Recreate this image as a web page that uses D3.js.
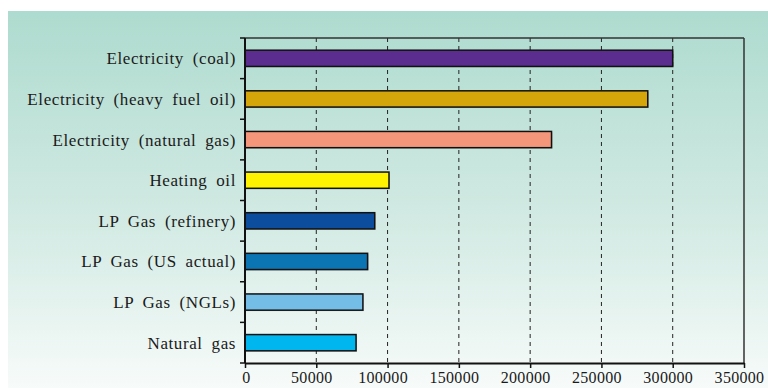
<!DOCTYPE html>
<html>
<head>
<meta charset="utf-8">
<script src="https://cdn.jsdelivr.net/npm/d3@7"></script>
<style>
  body { margin: 0; background: #fff; }
  svg text { font-family: "Liberation Serif", "DejaVu Serif", serif; fill: #1a1a1a; }
</style>
</head>
<body>
<svg id="chart" width="768" height="388"></svg>
<script>
// Categories, top to bottom
const categories = [
  "Electricity (coal)",
  "Electricity (heavy fuel oil)",
  "Electricity (natural gas)",
  "Heating oil",
  "LP Gas (refinery)",
  "LP Gas (US actual)",
  "LP Gas (NGLs)",
  "Natural gas"
];
const values = [300000, 282500, 215000, 101000, 91000, 86000, 82700, 77900];
const barColors = ["#5b2d8e", "#d4a60a", "#f4967a", "#fff200", "#0d4d9e", "#0b74b3", "#74bde6", "#00b6ef"];
const xTicks = [0, 50000, 100000, 150000, 200000, 250000, 300000, 350000];

const svg = d3.select("#chart");
const margin = { top: 38, right: 24, bottom: 25, left: 245 };
const width = 768 - margin.left - margin.right;
const height = 388 - margin.top - margin.bottom;

// background panel with vertical gradient
const defs = svg.append("defs");
const grad = defs.append("linearGradient")
  .attr("id", "bg").attr("x1", 0).attr("y1", 0).attr("x2", 0).attr("y2", 1);
grad.append("stop").attr("offset", "0%").attr("stop-color", "#aedbcf");
grad.append("stop").attr("offset", "55%").attr("stop-color", "#d2eae3");
grad.append("stop").attr("offset", "100%").attr("stop-color", "#f7fbfa");

svg.append("rect")
  .attr("x", 8).attr("y", 11)
  .attr("width", 760).attr("height", 377)
  .attr("fill", "url(#bg)");

const g = svg.append("g").attr("transform", `translate(${margin.left},${margin.top})`);

const x = d3.scaleLinear().domain([0, 350000]).range([0, width]);
const y = d3.scaleBand().domain(categories).range([0, height]).paddingInner(0.6).paddingOuter(0.3);

// dashed grid lines
g.append("g")
  .selectAll("line")
  .data(xTicks.slice(1, -1))
  .join("line")
  .attr("x1", d => x(d)).attr("x2", d => x(d))
  .attr("y1", 0).attr("y2", height)
  .attr("stroke", "#222")
  .attr("stroke-width", 1)
  .attr("stroke-dasharray", "4,4");

// frame top and right
g.append("line").attr("x1", 0).attr("x2", width).attr("y1", 0).attr("y2", 0)
  .attr("stroke", "#333").attr("stroke-width", 1.5);
g.append("line").attr("x1", width).attr("x2", width).attr("y1", 0).attr("y2", height)
  .attr("stroke", "#333").attr("stroke-width", 1.5);

// bar shadows
g.append("g")
  .selectAll("rect")
  .data(values)
  .join("rect")
  .attr("x", 1)
  .attr("y", (d, i) => y(categories[i]) + 1)
  .attr("width", d => x(d))
  .attr("height", y.bandwidth())
  .attr("fill", "#000")
  .attr("opacity", 0.15);

// bars
g.append("g")
  .selectAll("rect")
  .data(values)
  .join("rect")
  .attr("x", 0)
  .attr("y", (d, i) => y(categories[i]))
  .attr("width", d => x(d))
  .attr("height", y.bandwidth())
  .attr("fill", (d, i) => barColors[i])
  .attr("stroke", "#111")
  .attr("stroke-width", 1.5);

// y axis: ticks between categories
const yAxis = g.append("g");
const bandStep = height / categories.length;
yAxis.append("line").attr("x1", 0).attr("x2", 0).attr("y1", 0).attr("y2", height)
  .attr("stroke", "#111").attr("stroke-width", 2);
yAxis.selectAll("line.tick")
  .data(d3.range(categories.length + 1))
  .join("line")
  .attr("class", "tick")
  .attr("x1", -5).attr("x2", 0)
  .attr("y1", d => d * bandStep).attr("y2", d => d * bandStep)
  .attr("stroke", "#111").attr("stroke-width", 1.5);
yAxis.selectAll("text")
  .data(categories)
  .join("text")
  .attr("x", -9)
  .attr("y", d => y(d) + y.bandwidth() / 2)
  .attr("dy", "0.35em")
  .attr("text-anchor", "end")
  .style("font-size", "17px")
  .style("letter-spacing", "0.6px")
  .style("word-spacing", "4px")
  .text(d => d);

// x axis
const xAxis = g.append("g")
  .attr("transform", `translate(0,${height})`)
  .call(d3.axisBottom(x).tickValues(xTicks).tickFormat(d3.format("d")).tickSize(5).tickSizeOuter(0));
xAxis.select(".domain").attr("stroke", "#111").attr("stroke-width", 2);
xAxis.selectAll(".tick line").attr("stroke", "#111").attr("stroke-width", 1.5);
xAxis.selectAll(".tick text")
  .attr("y", 9)
  .attr("dx", d => (d === 0 ? 1 : -5))
  .style("font-size", "16px")
  .style("letter-spacing", "0.3px")
  .style("font-family", "'Liberation Serif', serif")
  .attr("fill", "#1a1a1a");
</script>
</body>
</html>
